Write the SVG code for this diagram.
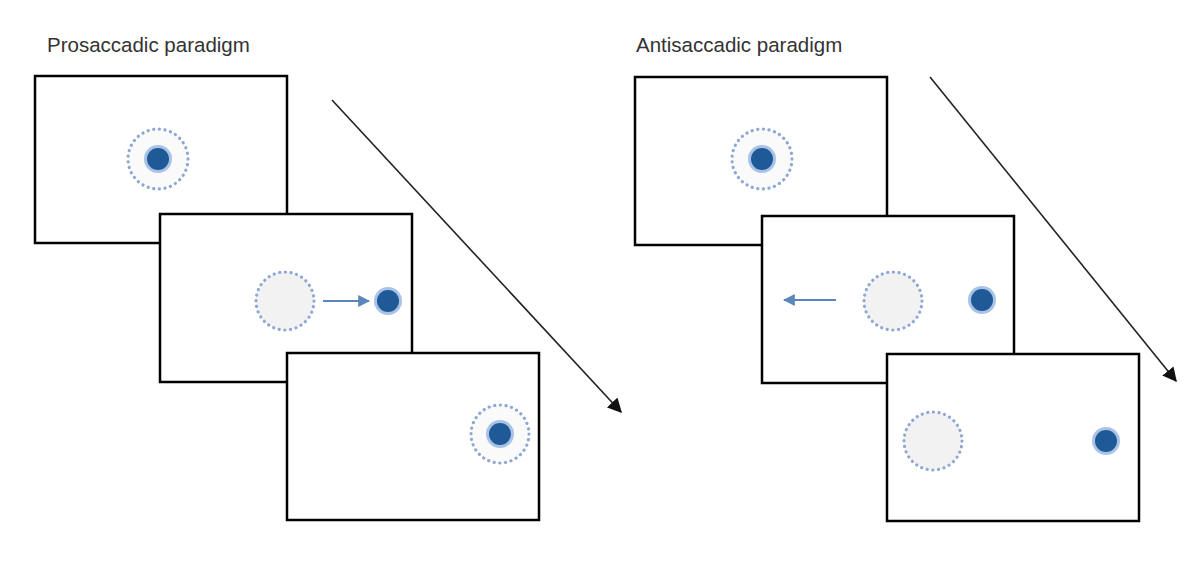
<svg xmlns="http://www.w3.org/2000/svg" width="1200" height="580" viewBox="0 0 1200 580">
<defs>
<style>
.frame{fill:#fff;stroke:#000;stroke-width:2.5}
.ring{fill:#fafafa;stroke:#8ea8d2;stroke-width:3.2;stroke-dasharray:0.1 5.6;stroke-linecap:round}
.ghost{fill:#f2f2f2;stroke:#8ea8d2;stroke-width:3.2;stroke-dasharray:0.1 5.6;stroke-linecap:round}
.halo{fill:#a9c3e8}
.dot{fill:#1f5a96}
.title{font-family:"Liberation Sans",Arial,sans-serif;font-size:20.5px;fill:#333}
.saccade{stroke:#5b86bb;stroke-width:2;fill:none}
.time{stroke:#222;stroke-width:1.6;fill:none}
</style>
<marker id="bluehead" viewBox="0 0 10 10" refX="9" refY="5" markerWidth="6" markerHeight="6" orient="auto"><path d="M0,0 L10,5 L0,10 z" fill="#5b86bb"/></marker>
<marker id="blackhead" viewBox="0 0 10 10" refX="9" refY="5" markerWidth="9" markerHeight="9" orient="auto"><path d="M0,0 L10,5 L0,10 z" fill="#111"/></marker>
</defs>
<rect width="1200" height="580" fill="#fff"/>
<text class="title" x="47" y="52">Prosaccadic paradigm</text>
<text class="title" x="636" y="52">Antisaccadic paradigm</text>
<g id="pro-frame1">
<rect class="frame" x="35" y="76" width="252" height="167"/>
<circle class="ring" cx="158" cy="159" r="30"/>
<circle class="halo" cx="158" cy="159" r="14"/>
<circle class="dot" cx="158" cy="159" r="11"/>
</g>
<g id="pro-frame2">
<rect class="frame" x="160" y="214" width="252" height="168"/>
<circle class="ghost" cx="285" cy="301" r="29"/>
<circle class="halo" cx="388" cy="301" r="14"/>
<circle class="dot" cx="388" cy="301" r="11"/>
</g>
<g id="pro-frame3">
<rect class="frame" x="287" y="353" width="252" height="167"/>
<circle class="ring" cx="500" cy="434" r="29"/>
<circle class="halo" cx="500" cy="434" r="14"/>
<circle class="dot" cx="500" cy="434" r="11"/>
</g>
<g id="anti-frame1">
<rect class="frame" x="635" y="77" width="252" height="168"/>
<circle class="ring" cx="762" cy="159" r="30"/>
<circle class="halo" cx="762" cy="159" r="14"/>
<circle class="dot" cx="762" cy="159" r="11"/>
</g>
<g id="anti-frame2">
<rect class="frame" x="762" y="216" width="252" height="167"/>
<circle class="ghost" cx="893" cy="301" r="29"/>
<circle class="halo" cx="982" cy="300" r="14"/>
<circle class="dot" cx="982" cy="300" r="11"/>
</g>
<g id="anti-frame3">
<rect class="frame" x="887" y="354" width="252" height="167"/>
<circle class="ghost" cx="933" cy="441" r="29"/>
<circle class="halo" cx="1106" cy="441" r="14"/>
<circle class="dot" cx="1106" cy="441" r="11"/>
</g>
<g id="connectors">
<line class="saccade" x1="323" y1="301" x2="369" y2="301" marker-end="url(#bluehead)"/>
<line class="saccade" x1="836" y1="300" x2="784" y2="300" marker-end="url(#bluehead)"/>
<line class="time" x1="332" y1="100" x2="621" y2="412" marker-end="url(#blackhead)"/>
<line class="time" x1="930" y1="77" x2="1176" y2="381" marker-end="url(#blackhead)"/>
</g>
</svg>
